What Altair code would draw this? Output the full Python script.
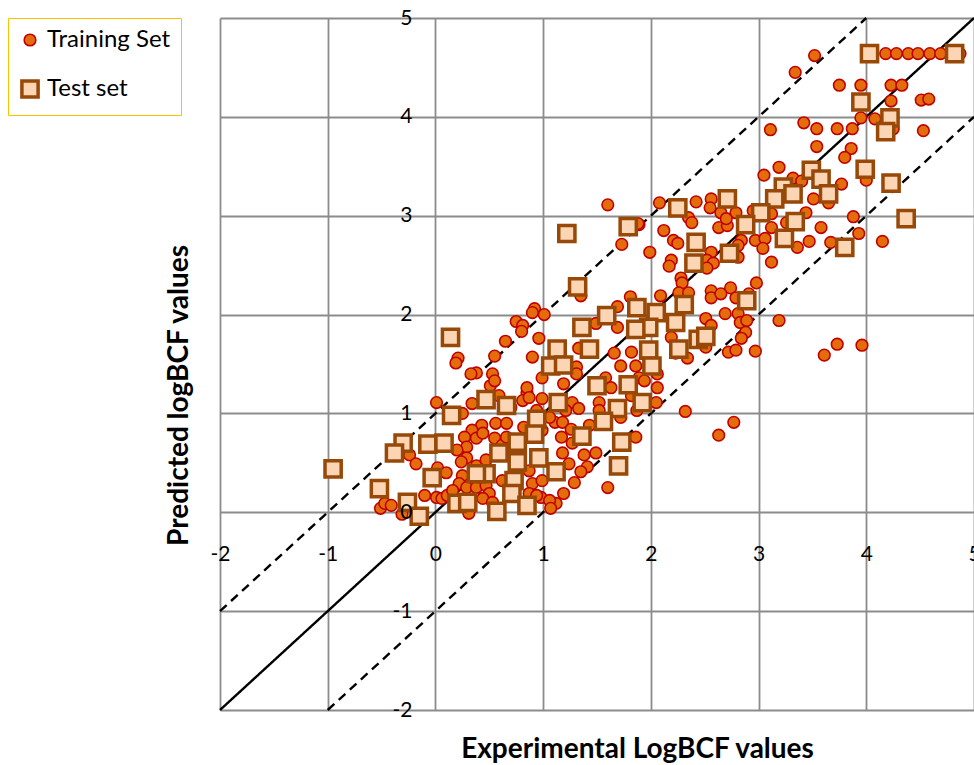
import altair as alt
import pandas as pd

# ---------------- data ----------------
train_x = [
    3.52, 3.34, 3.75, 3.95, 4.23, 4.33, 4.23, 4.51, 4.58, 3.95, 4.08, 3.11, 3.42, 3.54, 3.73, 3.87, 4.25, 4.53,
    4.18, 4.28, 4.39, 4.48, 4.59, 4.69, 4.87, 3.54, 3.86,
    3.80, 3.19, 3.05, 4.00, 3.77, 3.51, 3.44, 3.88, 3.58, 3.93, 4.15, 3.47, 3.67,
    3.32, 3.40, 3.65, 3.26, 3.12, 3.03, 2.95, 2.08, 2.42, 2.56, 2.55, 2.35, 2.38, 2.65, 2.79, 1.89, 2.12, 2.63,
    2.71, 2.70, 3.12, 3.36, 2.97, 3.06, 3.04, 2.84, 2.81, 2.21, 2.25, 1.99, 2.56, 2.52, 2.58, 2.52, 2.81, 3.12,
    2.19, 2.17, 2.28, 2.29, 2.98, 2.74, 2.56, 2.56, 2.65, 2.26, 2.35, 2.09, 2.79, 2.91, 2.69, 2.81, 2.51, 2.56,
    2.83, 2.89, 3.19, 2.88, 2.84, 2.72, 2.79, 2.97, 3.61, 3.73, 3.96, 2.34, 2.23,
    1.60, 1.88, 1.73, 1.81, 1.69, 1.35, 0.92, 0.90, 1.01, 0.75, 0.81, 0.80, 0.96, 0.65, 0.55, 0.90, 1.49, 1.69,
    1.66, 1.82, 2.19, 1.33, 0.21, 0.19, 0.38, 0.33, 0.53, 0.99, 0.85, 0.70,
    1.72, 1.86, 1.31, 1.31, 1.19, 1.58, 1.63, 1.89, 1.94, 2.06, 2.06, 2.05, 1.82, 1.87, 1.52, 1.52, 1.72, 1.27,
    1.33, 1.21, 1.11, 1.18, 1.43, 1.26, 1.17, 1.86, 1.27, 1.18, 1.49, 1.38, 1.24, 1.41, 1.35, 1.29, 1.19, 1.12,
    1.60, 2.32, 2.77, 2.63, 2.51, 0.98,
    0.01, 0.34, 0.25, 0.51, 0.55, 0.85, 0.59, 0.81, 0.87, 0.99, 0.94, 1.06, 0.56, 0.66, 0.82, 0.99, 0.43, 0.34,
    0.38, 0.44, 0.27, 0.29, 0.20, 0.29, 0.24, 0.38, 0.47, 0.55, 0.62, 0.66, -0.24, -0.18, 0.02, 0.10, 0.25, 0.22,
    0.29, 0.38, 0.47, 0.50, 0.44, 0.53, 0.62, 0.87, 0.90, 0.99, 0.87, 0.94, -0.51, -0.47, -0.41, -0.10, 0.01,
    0.06, 0.11, 0.31, 0.16, 1.06, 1.07, -0.31,
]
train_y = [
    4.62, 4.45, 4.32, 4.32, 4.32, 4.32, 4.16, 4.17, 4.18, 3.99, 3.98, 3.87, 3.94, 3.88, 3.88, 3.88, 3.88, 3.86,
    4.64, 4.64, 4.64, 4.64, 4.64, 4.64, 4.64, 3.70, 3.68,
    3.59, 3.49, 3.41, 3.36, 3.32, 3.17, 3.03, 2.99, 2.88, 2.82, 2.74, 2.74, 2.73,
    3.38, 3.35, 3.13, 2.93, 3.02, 3.05, 3.05, 3.13, 3.14, 3.17, 3.08, 2.98, 2.93, 3.03, 3.03, 2.91, 2.85, 2.88,
    2.90, 2.97, 2.88, 2.68, 2.75, 2.77, 2.67, 2.75, 2.70, 2.75, 2.72, 2.63, 2.63, 2.55, 2.52, 2.47, 2.58, 2.53,
    2.55, 2.49, 2.37, 2.32, 2.32, 2.27, 2.24, 2.17, 2.21, 2.22, 2.22, 2.19, 2.17, 2.21, 2.01, 2.01, 1.96, 1.89,
    1.92, 1.94, 1.94, 1.82, 1.76, 1.62, 1.64, 1.63, 1.59, 1.70, 1.69, 1.56, 1.61,
    3.11, 2.92, 2.71, 2.18, 2.08, 2.19, 2.06, 2.02, 2.00, 1.93, 1.89, 1.83, 1.76, 1.73, 1.58, 1.57, 1.91, 1.87,
    1.61, 1.62, 1.77, 1.66, 1.56, 1.51, 1.41, 1.40, 1.40, 1.36, 1.21, 1.06,
    1.48, 1.48, 1.47, 1.40, 1.30, 1.36, 1.26, 1.36, 1.33, 1.40, 1.26, 1.11, 1.18, 1.03, 1.11, 1.03, 0.96, 1.11,
    1.05, 1.03, 0.91, 0.91, 0.88, 0.84, 0.76, 0.76, 0.70, 0.60, 0.60, 0.58, 0.49, 0.46, 0.41, 0.30, 0.19, 0.09,
    0.25, 1.02, 0.91, 0.78, 1.67, 0.15,
    1.11, 1.10, 1.00, 1.28, 1.33, 1.26, 1.18, 1.13, 1.16, 1.15, 1.03, 0.96, 0.90, 0.90, 0.86, 0.83, 0.88, 0.83,
    0.75, 0.80, 0.76, 0.66, 0.63, 0.55, 0.51, 0.47, 0.53, 0.75, 0.68, 0.76, 0.58, 0.49, 0.45, 0.40, 0.37, 0.29,
    0.25, 0.25, 0.27, 0.19, 0.14, 0.10, 0.32, 0.42, 0.29, 0.32, 0.19, 0.17, 0.04, 0.09, 0.07, 0.17, 0.15,
    0.14, 0.17, -0.01, 0.22, 0.12, 0.04, -0.02,
]
test_x = [
    4.03, 4.82, 3.95, 4.22, 4.18, 3.99, 4.23, 4.37, 3.49, 3.58, 3.23, 3.32, 3.65, 3.15, 3.02, 2.88, 3.34, 3.24,
    3.80, 2.71, 2.25, 2.42, 2.73, 2.40, 2.89, 2.31, 2.05, 1.87, 2.23, 1.98, 2.44, 2.51, 2.26, 1.98, 2.01,
    1.22, 1.79, 1.32, 1.59, 1.36, 1.86, 0.14, 1.13, 1.43, 1.07, 1.19,
    1.50, 1.79, 1.14, 1.92, 1.69, 1.56, 0.94, 1.36, 1.73, 1.12, 1.70, 0.96, 0.92,
    0.47, 0.66, 0.15, 0.76, -0.30, -0.38, -0.07, 0.08, 0.59, 0.76, 0.47, 0.38, -0.03, 0.73, 0.71, -0.52, -0.95,
    -0.26, -0.15, 0.20, 0.30, 0.57, 0.85,
]
test_y = [
    4.64, 4.64, 4.15, 3.99, 3.85, 3.47, 3.33, 2.97, 3.46, 3.37, 3.29, 3.22, 3.22, 3.17, 3.03, 2.91, 2.94, 2.77,
    2.68, 3.17, 3.08, 2.73, 2.62, 2.52, 2.14, 2.10, 2.02, 2.07, 1.92, 1.87, 1.75, 1.78, 1.65, 1.64, 1.48,
    2.82, 2.89, 2.28, 1.99, 1.87, 1.85, 1.77, 1.65, 1.65, 1.48, 1.49,
    1.28, 1.29, 1.11, 1.11, 1.05, 0.92, 0.94, 0.77, 0.71, 0.41, 0.47, 0.55, 0.79,
    1.14, 1.08, 0.98, 0.71, 0.70, 0.60, 0.69, 0.70, 0.60, 0.51, 0.39, 0.39, 0.35, 0.32, 0.19, 0.24, 0.44,
    0.10, -0.04, 0.09, 0.10, 0.01, 0.07,
]

series_names = ["Training Set", "Test set"]

# reference lines: y = x, y = x + 1, y = x - 1 (start and end points)
ref_kind = ["y = x", "y = x + 1", "y = x - 1"]
ref_x = [-2, -2, -1]
ref_y = [-2, -1, -2]
ref_x2 = [5, 4, 5]
ref_y2 = [5, 5, 4]

tick_values = [-2, -1, 0, 1, 2, 3, 4, 5]

# ---------------- styles ----------------
FONT = "Lato"
series_fill = ["#E46C0A", "#FCD5B4"]
series_stroke = ["#C00000", "#984807"]
series_shape = ["circle", "square"]
series_size = [135, 262]
series_stroke_width = [1.6, 3.5]

pts = pd.DataFrame({
    "exp": train_x + test_x,
    "pred": train_y + test_y,
    "set": [series_names[0]] * len(train_x) + [series_names[1]] * len(test_x),
})
ref = pd.DataFrame({"exp": ref_x, "pred": ref_y, "exp2": ref_x2, "pred2": ref_y2, "kind": ref_kind})

xs = alt.Scale(domain=[-2, 5], nice=False, zero=False)
ys = alt.Scale(domain=[-2, 5], nice=False, zero=False)

grid_common = dict(values=tick_values, grid=True, gridColor="#8c8c8c", gridWidth=1.8,
                   domain=False, ticks=False, labels=False, zindex=0,
                   titleFont=FONT, titleFontSize=28, titleFontWeight="bold", titleColor="black")
grid_x_axis = alt.Axis(orient="bottom", title="Experimental LogBCF values",
                       titleX=417, titleY=47, titleAlign="center", titleBaseline="alphabetic",
                       **grid_common)
grid_y_axis = alt.Axis(orient="left", title="Predicted logBCF values",
                       titleX=-33, titleY=377, titleAngle=270, titleAlign="center",
                       titleBaseline="alphabetic", **grid_common)

label_common = dict(values=tick_values, grid=False, domain=False, ticks=False, tickSize=0,
                    labelFlush=False, labelOverlap=False, labelFont=FONT, labelFontSize=21,
                    labelColor="black", labelExpr="toString(datum.value)", title=None, zindex=1)
label_x_axis = alt.Axis(orient="bottom", labelPadding=-167, **label_common)
label_y_axis = alt.Axis(orient="left", labelPadding=-192, **label_common)

leg = alt.Legend(title=None, orient="none", legendX=-212, legendY=0, direction="vertical",
                 strokeColor="#FFC000", fillColor="white", padding=10, rowPadding=21,
                 labelFont=FONT, labelFontSize=24, labelColor="black", labelOffset=5,
                 symbolOpacity=1)

lines = alt.Chart(ref).mark_rule(color="black", strokeWidth=2.4).encode(
    x=alt.X("exp:Q", scale=xs, axis=grid_x_axis),
    x2="exp2:Q",
    y=alt.Y("pred:Q", scale=ys, axis=grid_y_axis),
    y2="pred2:Q",
    strokeDash=alt.StrokeDash("kind:N", scale=alt.Scale(domain=ref_kind, range=[[1, 0], [9, 6], [9, 6]]),
                              legend=None),
)

points = alt.Chart(pts).mark_point(filled=True, opacity=1).encode(
    x=alt.X("exp:Q", scale=xs, axis=label_x_axis),
    y=alt.Y("pred:Q", scale=ys, axis=label_y_axis),
    shape=alt.Shape("set:N", scale=alt.Scale(domain=series_names, range=series_shape), legend=leg),
    fill=alt.Fill("set:N", scale=alt.Scale(domain=series_names, range=series_fill), legend=leg),
    stroke=alt.Stroke("set:N", scale=alt.Scale(domain=series_names, range=series_stroke), legend=leg),
    size=alt.Size("set:N", scale=alt.Scale(domain=series_names, range=series_size), legend=leg),
    strokeWidth=alt.StrokeWidth("set:N", scale=alt.Scale(domain=series_names, range=series_stroke_width),
                                legend=leg),
)

chart = alt.layer(lines, points).resolve_axis(
    x="independent", y="independent"
).properties(
    width=754, height=692,
    padding={"left": 220, "top": 18, "right": 0, "bottom": 55},
    autosize=alt.AutoSizeParams(type="none"),
    background="white",
).configure_view(stroke=None)

chart.save("out.html", embed_options={"renderer": "svg", "actions": False})
